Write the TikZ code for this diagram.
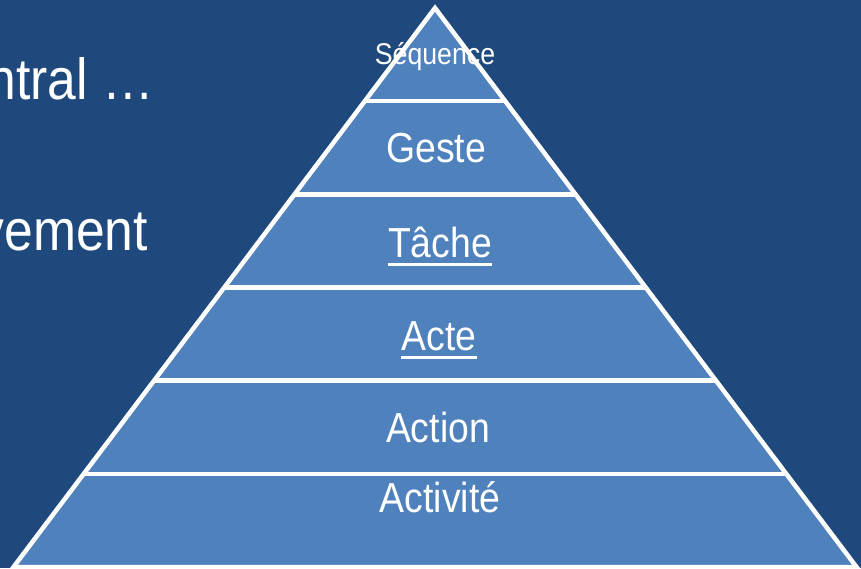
\documentclass[tikz,border=0pt]{standalone}
\usepackage{fontspec}
\setmainfont{Liberation Sans}
\usepackage{graphicx}
\definecolor{bgblue}{RGB}{31,73,125}
\definecolor{bandblue}{RGB}{79,129,189}
\tikzset{
  bandtext/.style={anchor=base, inner sep=0pt, text=white, font=\fontsize{42}{50}\selectfont},
  smalltext/.style={anchor=base, inner sep=0pt, text=white, font=\fontsize{30}{36}\selectfont},
  sidetext/.style={anchor=base east, inner sep=0pt, text=white, font=\fontsize{58}{68}\selectfont},
  whiteline/.style={draw=white, line width=4.5pt},
  uline/.style={draw=white, line width=2.8pt}
}
\newcommand{\nrw}[1]{\scalebox{0.89}[1]{#1}}
\begin{document}
\begin{tikzpicture}[x=1pt,y=-1pt]
\useasboundingbox (0,0) rectangle (861,568);
\clip (0,0) rectangle (861,568);
\fill[bgblue] (0,0) rectangle (861,568);

% side text (cut off at the left border, as in the reference)
\node[sidetext] (t1) at (154,99) {\nrw{ntral …}};
\node[sidetext] (t2) at (148,250) {\nrw{vement}};

% pyramid corners
\coordinate (apex) at (435,8);
\coordinate (bl) at (13.5,567);
\coordinate (br) at (856.5,567);
\coordinate (l1) at (364.7,101.2); \coordinate (r1) at (505.3,101.2);
\coordinate (l2) at (294.5,194.3); \coordinate (r2) at (575.5,194.3);
\coordinate (l3) at (224.3,287.5); \coordinate (r3) at (645.7,287.5);
\coordinate (l4) at (154.0,380.7); \coordinate (r4) at (716.0,380.7);
\coordinate (l5) at (83.7,473.8);  \coordinate (r5) at (786.3,473.8);

\fill[bandblue] (apex) -- (br) -- (bl) -- cycle;
\draw[whiteline] (l1) -- (r1);
\draw[whiteline] (l2) -- (r2);
\draw[whiteline] (l3) -- (r3);
\draw[whiteline] (l4) -- (r4);
\draw[whiteline] (l5) -- (r5);
\draw[whiteline, line join=miter] (apex) -- (br) -- (bl) -- cycle;

% labels
\node[smalltext] (seq) at (435,64) {\nrw{Séquence}};
\node[bandtext] (geste) at (436,162) {\nrw{Geste}};
\node[bandtext] (tache) at (440,257) {\nrw{Tâche}};
\node[bandtext] (acte) at (439,350) {\nrw{Acte}};
\node[bandtext] (action) at (438,442) {\nrw{Action}};
\node[bandtext] (activite) at (440,512) {\nrw{Activité}};

\draw[uline] ([yshift=-7.5pt]tache.base west) -- ([yshift=-7.5pt]tache.base east);
\draw[uline] ([yshift=-7.5pt]acte.base west) -- ([yshift=-7.5pt]acte.base east);
\end{tikzpicture}
\end{document}
